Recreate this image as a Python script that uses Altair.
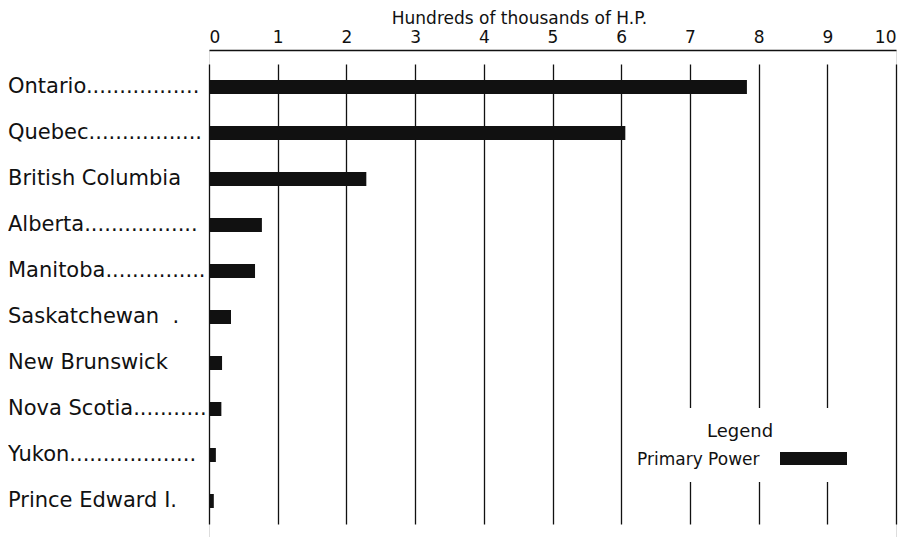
import altair as alt
import pandas as pd

provinces = ["Ontario", "Quebec", "British Columbia", "Alberta", "Manitoba",
             "Saskatchewan", "New Brunswick", "Nova Scotia", "Yukon", "Prince Edward I."]
display = ["Ontario.................", "Quebec.................", "British Columbia",
           "Alberta.................", "Manitoba...............", "Saskatchewan \u00a0.",
           "New Brunswick", "Nova Scotia...........", "Yukon...................",
           "Prince Edward I."]
primary_power = [7.83, 6.06, 2.29, 0.77, 0.67, 0.32, 0.19, 0.18, 0.10, 0.07]
ticks = list(range(0, 11))

df = pd.DataFrame({"province": provinces, "label": display, "value": primary_power})

FONT = "DejaVu Sans"
INK = "#111111"

y_enc = alt.Y("province:N", sort=provinces, axis=None,
              scale=alt.Scale(range=[14, 474], paddingInner=0, paddingOuter=0))

bars = alt.Chart(df).mark_bar(color=INK, height=14).encode(
    x=alt.X("value:Q",
            scale=alt.Scale(domain=[0, 10], nice=False),
            axis=alt.Axis(orient="top", values=ticks, title="Hundreds of thousands of H.P.",
                          titleFont=FONT, titleFontSize=17, titleFontWeight="normal",
                          titleColor=INK, titleX=310, titleY=-27, titleAlign="center",
                          titleBaseline="alphabetic",
                          labelFont=FONT, labelFontSize=17, labelColor=INK, labelPadding=4,
                          ticks=False, grid=True, gridColor=INK, gridWidth=1.3,
                          gridOpacity=1, domainColor=INK, domainWidth=1.3)),
    y=y_enc,
)

labels = alt.Chart(df).mark_text(align="left", baseline="middle", font=FONT,
                                 fontSize=21, color=INK).encode(
    x=alt.value(-201), y=y_enc, text="label:N")

leg_box = alt.Chart(pd.DataFrame({"a": [0]})).mark_rect(color="white").encode(
    x=alt.value(420), x2=alt.value(675), y=alt.value(358), y2=alt.value(432))
leg_title = alt.Chart(pd.DataFrame({"t": ["Legend"]})).mark_text(
    font=FONT, fontSize=18, color=INK, align="center", baseline="middle").encode(
    x=alt.value(531), y=alt.value(382), text="t:N")
leg_label = alt.Chart(pd.DataFrame({"t": ["Primary Power"]})).mark_text(
    font=FONT, fontSize=17, color=INK, align="left", baseline="middle").encode(
    x=alt.value(428), y=alt.value(410), text="t:N")
leg_swatch = alt.Chart(pd.DataFrame({"a": [0]})).mark_rect(color=INK).encode(
    x=alt.value(571), x2=alt.value(638), y=alt.value(402), y2=alt.value(415))

chart = alt.layer(bars, labels, leg_box, leg_title, leg_label, leg_swatch).properties(
    width=687, height=500,
    autosize=alt.AutoSizeParams(type="none"),
    padding={"left": 201, "top": 42, "right": 4, "bottom": 0},
).configure_view(stroke=None).configure(background="white")

chart.save("out.html", embed_options={"renderer": "svg", "actions": False})
